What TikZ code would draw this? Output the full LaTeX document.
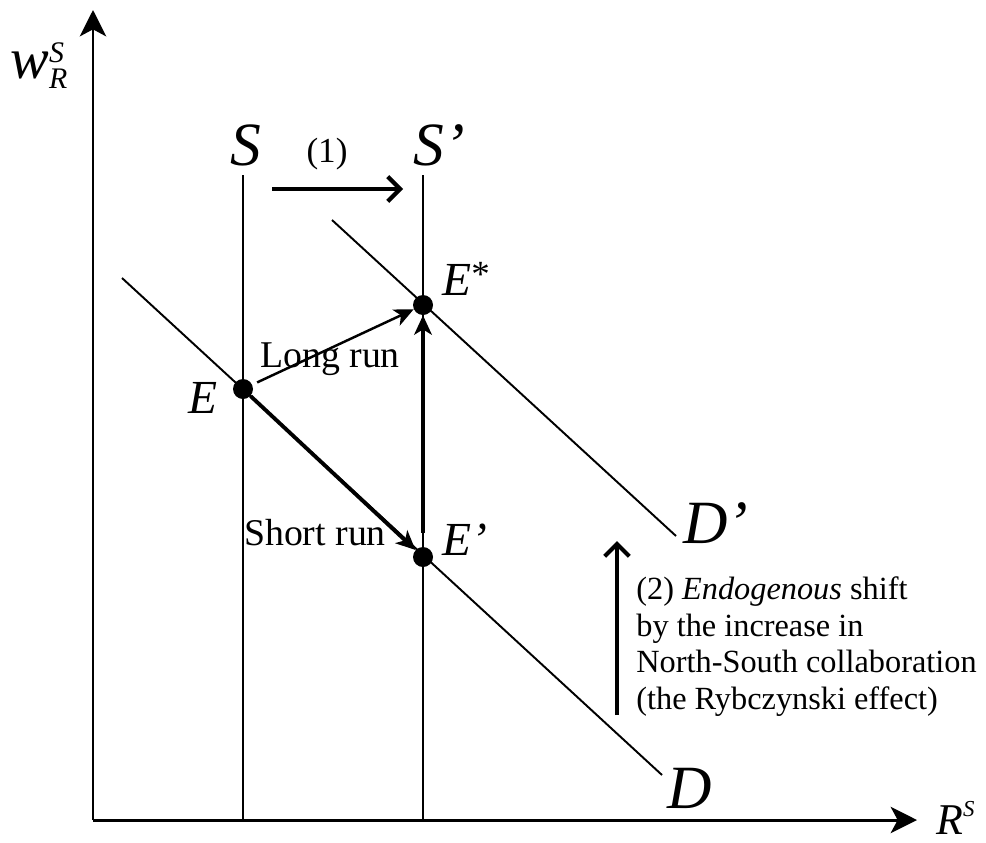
\documentclass[tikz,border=0pt]{standalone}
\usepackage{amsmath}
\usepackage{fontspec}
\setmainfont{Liberation Serif}
\usetikzlibrary{arrows.meta}

\newcommand{\fsz}[1]{\fontsize{#1}{#1}\selectfont}

\begin{document}
\begin{tikzpicture}[x=0.02cm, y=-0.02cm,
  axis/.style={line width=1.7pt, -{Stealth[length=15pt,width=15pt,inset=4pt]}},
  curve/.style={line width=1.1pt},
  dot/.style={circle, fill, inner sep=0pt, minimum size=0.4cm},
  move/.style={-{Stealth[length=11pt,width=10pt,inset=3pt]}},
  shiftarr/.style={line width=2.4pt, -{Straight Barb[length=7pt,width=14pt]}},
  lbl/.style={inner sep=0pt, anchor=base west},
  tag/.style={inner sep=0pt, anchor=base},
]
\useasboundingbox (0,0) rectangle (986,842);

% axes
\coordinate (O) at (93,820);
\coordinate (ytip) at (93,10);
\coordinate (xtip) at (917,820);
\draw[axis] (O) -- (ytip);
\draw[axis] (O) -- (xtip);
\node[lbl, font=\fsz{33}] (wlab) at (10,78)
  {$\textit{w}^{\text{\fsz{17}\textit{S}}}_{\text{\fsz{17}\textit{R}}}$};
\node[lbl, font=\fsz{25}] (Rlab) at (936,834) {$\textit{R}^{\text{\fsz{13}\textit{S}}}$};

% supply S and S'
\coordinate (Stop) at (243,175);
\coordinate (Sbot) at (243,820);
\coordinate (S1top) at (423,175);
\coordinate (S1bot) at (423,820);
\draw[curve] (Stop) -- (Sbot);
\draw[curve] (S1top) -- (S1bot);
\node[tag, font=\fsz{35}] (Slab) at (246,165) {\textit{S}};
\node[lbl, font=\fsz{35}] (S1lab) at (413,165) {\textit{S’}};

% demand D and D'
\coordinate (Dtop) at (122,278);
\coordinate (Dbot) at (662,775);
\coordinate (D1top) at (332,220);
\coordinate (D1bot) at (676,536);
\draw[curve] (Dtop) -- (Dbot);
\draw[curve] (D1top) -- (D1bot);
\node[lbl, font=\fsz{35}] (Dlab) at (667,808) {\textit{D}};
\node[lbl, font=\fsz{35}] (D1lab) at (683,543) {\textit{D’}};

% equilibria
\node[dot] (E) at (243,389) {};
\node[dot] (E1) at (423,557) {};
\node[dot] (Estar) at (423,305) {};
\node[lbl, font=\fsz{27}] (Elab) at (188,413) {\textit{E}};
\node[lbl, font=\fsz{27}] (E1lab) at (442,555) {\textit{E’}};
\node[lbl, font=\fsz{27}] (Estarlab) at (442,295) {\textit{E}{\fsz{21}\raisebox{5pt}{*}}};

% moves between equilibria
\draw[move, line width=1.4pt, shorten <=3pt] (E) -- (Estar);
\draw[move, line width=2.2pt] (E) -- (E1);
\draw[move, line width=2pt, shorten <=8pt] (E1) -- (Estar);
\node[tag, font=\fsz{21.5}] (longlab) at (330,367) {Long run};
\node[tag, font=\fsz{21.5}] (shortlab) at (315,545) {Short run};

% (1) exogenous shift of S
\coordinate (s1a) at (272,189);
\coordinate (s1b) at (403,189);
\draw[shiftarr] (s1a) -- (s1b);
\node[tag, font=\fsz{20}] (onelab) at (327,162) {(1)};

% (2) endogenous shift of D
\coordinate (s2a) at (617,715);
\coordinate (s2b) at (617,541);
\draw[shiftarr] (s2a) -- (s2b);
\node[inner sep=0pt, anchor=north west, align=left, font=\fontsize{18.4}{21}\selectfont] (twolab) at (636,576)
  {(2) \textit{Endogenous} shift\\by the increase in\\North-South collaboration\\(the Rybczynski effect)};
\end{tikzpicture}
\end{document}
